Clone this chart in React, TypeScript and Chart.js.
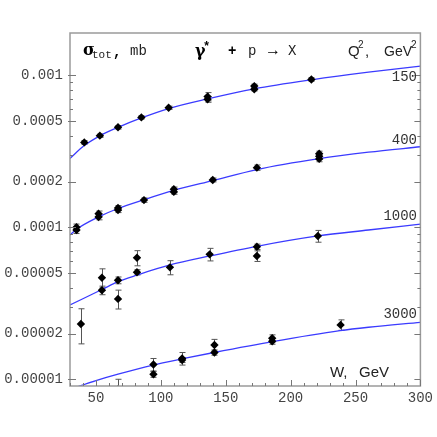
import React, { useEffect, useRef } from "react";
import { Chart, registerables } from "chart.js";

Chart.register(...registerables);

// ---- data ----
const qLabels = ["150", "400", "1000", "3000"];

const w150 = [41, 53, 67, 85, 106, 136, 136, 172, 172, 216];
const s150 = [3.62e-4, 4.01e-4, 4.55e-4, 5.29e-4, 6.12e-4, 6.95e-4, 7.25e-4, 8.1e-4, 8.5e-4, 9.4e-4];
const e150 = [1e-5, 1e-5, 1.2e-5, 1.3e-5, 1.5e-5, 3e-5, 4.5e-5, 2e-5, 2.5e-5, 2.5e-5];

const w400 = [35, 35, 52, 52, 67, 67, 87, 110, 110, 140, 174, 222, 222, 222];
const s400 = [1.0e-4, 0.96e-4, 1.23e-4, 1.17e-4, 1.34e-4, 1.3e-4, 1.51e-4, 1.78e-4, 1.71e-4, 2.05e-4, 2.47e-4, 3.05e-4, 2.93e-4, 2.82e-4];
const e400 = [5e-6, 5e-6, 5e-6, 5e-6, 5e-6, 5e-6, 5e-6, 6e-6, 6e-6, 6e-6, 1e-5, 1.2e-5, 1.2e-5, 1.2e-5];

const w1000 = [38.4, 54.6, 54.6, 67, 67, 81.6, 81.6, 107, 137.6, 174, 174, 221];
const s1000 = [2.31e-5, 4.66e-5, 3.85e-5, 4.48e-5, 3.38e-5, 6.3e-5, 5.06e-5, 5.45e-5, 6.64e-5, 7.45e-5, 6.48e-5, 8.76e-5];
const e1000 = [0.6e-5, 0.67e-5, 0.25e-5, 0.23e-5, 0.48e-5, 0.72e-5, 0.2e-5, 0.58e-5, 0.63e-5, 0.3e-5, 0.52e-5, 0.78e-5];

const w3000 = [67, 94.3, 94.3, 116.4, 116.4, 141.3, 141.3, 185.8, 185.8, 238.5];
const s3000 = [8.6e-6, 1.25e-5, 1.08e-5, 1.37e-5, 1.34e-5, 1.68e-5, 1.5e-5, 1.86e-5, 1.78e-5, 2.28e-5];
const e3000 = [1.4e-6, 0.12e-5, 0.05e-5, 0.13e-5, 0.05e-5, 0.15e-5, 0.06e-5, 0.1e-5, 0.08e-5, 0.18e-5];

// fitted curves
const cw150 = [30, 41, 53, 67, 85, 106, 136, 172, 216, 260, 300];
const cs150 = [2.84e-4, 3.45e-4, 4.0e-4, 4.55e-4, 5.25e-4, 6.05e-4, 7.0e-4, 8.15e-4, 9.35e-4, 1.05e-3, 1.15e-3];
const cw400 = [30, 35, 52, 67, 87, 110, 140, 174, 222, 260, 300];
const cs400 = [0.89e-4, 0.97e-4, 1.17e-4, 1.33e-4, 1.52e-4, 1.75e-4, 2.03e-4, 2.4e-4, 2.83e-4, 3.12e-4, 3.39e-4];
const cw1000 = [30, 55, 67, 82, 107, 138, 174, 221, 260, 300];
const cs1000 = [3.08e-5, 3.91e-5, 4.39e-5, 4.86e-5, 5.65e-5, 6.48e-5, 7.5e-5, 8.77e-5, 9.6e-5, 1.05e-4];
const cw3000 = [30, 50, 67, 94, 116, 141, 186, 238, 260, 300];
const cs3000 = [8.6e-6, 9.8e-6, 1.08e-5, 1.24e-5, 1.36e-5, 1.5e-5, 1.77e-5, 2.09e-5, 2.2e-5, 2.37e-5];

const xTicks = [50, 100, 150, 200, 250, 300];
const yTicks = [1e-5, 2e-5, 5e-5, 1e-4, 2e-4, 5e-4, 1e-3];
const yTickLabels = ["0.00001", "0.00002", "0.00005", "0.0001", "0.0002", "0.0005", "0.001"];

const X_MIN = 30;
const X_MAX = 300;
const Y_MIN = 9.03e-6;
const Y_MAX = 1.9e-3;

const MONO = '"Liberation Mono", "DejaVu Sans Mono", monospace';
const SANS = '"Liberation Sans", Arial, sans-serif';

const pts = (xs: number[], ys: number[]) => xs.map((x, i) => ({ x, y: ys[i] }));

const pointDs = (xs: number[], ys: number[], es: number[]) => ({
  type: "scatter" as const,
  data: pts(xs, ys),
  errors: es,
  showLine: false,
  pointStyle: "rectRot",
  pointRadius: 4.2,
  pointBackgroundColor: "#000",
  pointBorderColor: "#000",
  pointBorderWidth: 0,
  clip: 0,
  order: 1,
});

const curveDs = (xs: number[], ys: number[]) => ({
  type: "line" as const,
  data: pts(xs, ys),
  borderColor: "#3b3bff",
  borderWidth: 1.3,
  pointRadius: 0,
  fill: false,
  cubicInterpolationMode: "monotone" as const,
  clip: 0,
  order: 2,
});

const framePlugin = {
  id: "framePlugin",
  beforeDatasetsDraw(chart: any) {
    const { ctx, chartArea } = chart;
    const xs = chart.scales.x;
    const ys = chart.scales.y;
    ctx.save();
    ctx.beginPath();
    ctx.rect(chartArea.left, chartArea.top, chartArea.right - chartArea.left, chartArea.bottom - chartArea.top);
    ctx.clip();
    ctx.strokeStyle = "#555";
    ctx.lineWidth = 1;
    chart.data.datasets.forEach((ds: any) => {
      if (!ds.errors) return;
      ds.data.forEach((p: any, i: number) => {
        const e = ds.errors[i];
        const px = Math.round(xs.getPixelForValue(p.x)) + 0.5;
        const y1 = ys.getPixelForValue(p.y + e);
        const y2 = ys.getPixelForValue(Math.max(p.y - e, 1e-7));
        ctx.beginPath();
        ctx.moveTo(px, y1);
        ctx.lineTo(px, y2);
        ctx.moveTo(px - 3, y1);
        ctx.lineTo(px + 3, y1);
        ctx.moveTo(px - 3, y2);
        ctx.lineTo(px + 3, y2);
        ctx.stroke();
      });
    });
    ctx.restore();
  },
  afterDraw(chart: any) {
    const { ctx, chartArea } = chart;
    const { left, right, top, bottom } = chartArea;
    const xs = chart.scales.x;
    const ys = chart.scales.y;
    ctx.save();
    // frame
    ctx.strokeStyle = "#9a9a9a";
    ctx.lineWidth = 1.5;
    ctx.strokeRect(left, top, right - left, bottom - top);
    // y ticks (left & right)
    ctx.strokeStyle = "#777";
    ctx.lineWidth = 1;
    for (const d of [1e-6, 1e-5, 1e-4, 1e-3]) {
      for (let m = 1; m <= 9; m++) {
        const v = m * d;
        if (v < Y_MIN || v > Y_MAX) continue;
        const major = m === 1 || m === 2 || m === 5;
        const len = major ? 6 : 3;
        const py = Math.round(ys.getPixelForValue(v)) + 0.5;
        ctx.beginPath();
        ctx.moveTo(left - (major ? 2 : 0), py);
        ctx.lineTo(left + len, py);
        ctx.moveTo(right, py);
        ctx.lineTo(right - len, py);
        ctx.stroke();
      }
    }
    // x ticks (bottom)
    for (let v = 30; v <= 300; v += 10) {
      const major = v % 50 === 0;
      const len = major ? 6 : 3;
      const px = Math.round(xs.getPixelForValue(v)) + 0.5;
      ctx.beginPath();
      ctx.moveTo(px, bottom);
      ctx.lineTo(px, bottom - len);
      ctx.stroke();
    }
    // annotations
    ctx.textBaseline = "middle";
    const t = (s: string, x: number, y: number, font: string, align: CanvasTextAlign = "left", color = "#000") => {
      ctx.font = font;
      ctx.textAlign = align;
      ctx.fillStyle = color;
      ctx.fillText(s, x, y);
    };
    t("σ", 83, 51, 'bold 16px "DejaVu Serif", serif');
    t("tot", 92, 55, "11px " + MONO, "left", "#222");
    t(",", 113, 52, "bold 14px " + MONO);
    t("mb", 130, 51, "14px " + MONO, "left", "#222");

    t("γ", 195, 52, 'bold 16px "DejaVu Serif", serif');
    t("*", 203, 47, "bold 12px " + MONO);
    t("+", 228, 51, "bold 14px " + MONO);
    t("p", 248, 51, "14px " + MONO, "left", "#222");
    t("→", 265, 51, "bold 16px " + SANS);
    t("X", 288, 51, "14px " + MONO, "left", "#222");

    t("Q", 348, 52, "15px " + SANS, "left", "#222");
    t("2", 358, 45, "10px " + SANS, "left", "#222");
    t(",", 365, 52, "15px " + SANS, "left", "#222");
    t("GeV", 384, 52, "14px " + SANS, "left", "#222");
    t("2", 411, 45, "10px " + SANS, "left", "#222");

    t("W,", 330, 373, "15px " + SANS, "left", "#222");
    t("GeV", 359, 373, "15px " + SANS, "left", "#222");

    const qPos = [77, 140.7, 216.5, 314];
    qLabels.forEach((q, i) => t(q, 417, qPos[i], "14px " + MONO, "right", "#333"));
    ctx.restore();
  },
};

export default function App() {
  const ref = useRef<HTMLCanvasElement | null>(null);
  useEffect(() => {
    if (!ref.current) return;
    const chart = new Chart(ref.current, {
      type: "scatter",
      data: {
        datasets: [
          curveDs(cw150, cs150),
          curveDs(cw400, cs400),
          curveDs(cw1000, cs1000),
          curveDs(cw3000, cs3000),
          pointDs(w150, s150, e150),
          pointDs(w400, s400, e400),
          pointDs(w1000, s1000, e1000),
          pointDs(w3000, s3000, e3000),
        ] as any,
      },
      options: {
        animation: false,
        responsive: false,
        devicePixelRatio: 1,
        layout: { padding: { top: 33, right: 14, left: 0, bottom: 0 } },
        plugins: { legend: { display: false }, tooltip: { enabled: false } },
        scales: {
          x: {
            type: "linear",
            min: X_MIN,
            max: X_MAX,
            grid: { display: false, drawTicks: false },
            border: { display: false },
            afterBuildTicks: (scale: any) => {
              scale.ticks = xTicks.map((v) => ({ value: v }));
            },
            afterFit: (scale: any) => {
              scale.height = 51;
            },
            ticks: {
              autoSkip: false,
              maxRotation: 0,
              padding: 4,
              color: "#444",
              font: { family: MONO, size: 14 },
              callback: (v: any) => String(v),
            },
          },
          y: {
            type: "logarithmic",
            min: Y_MIN,
            max: Y_MAX,
            grid: { display: false, drawTicks: false },
            border: { display: false },
            afterBuildTicks: (scale: any) => {
              scale.ticks = yTicks.map((v) => ({ value: v }));
            },
            afterFit: (scale: any) => {
              scale.width = 70;
            },
            ticks: {
              autoSkip: false,
              padding: 7,
              color: "#444",
              font: { family: MONO, size: 14 },
              callback: (v: any) => {
                const i = yTicks.findIndex((t) => Math.abs(t - v) / t < 1e-6);
                return i >= 0 ? yTickLabels[i] : "";
              },
            },
          },
        },
      },
      plugins: [framePlugin],
    });
    return () => chart.destroy();
  }, []);
  return (
    <div style={{ position: "fixed", left: 0, top: 0, width: 437, height: 437, background: "#fff" }}>
      <canvas ref={ref} width={437} height={437} style={{ width: 437, height: 437 }} />
    </div>
  );
}
